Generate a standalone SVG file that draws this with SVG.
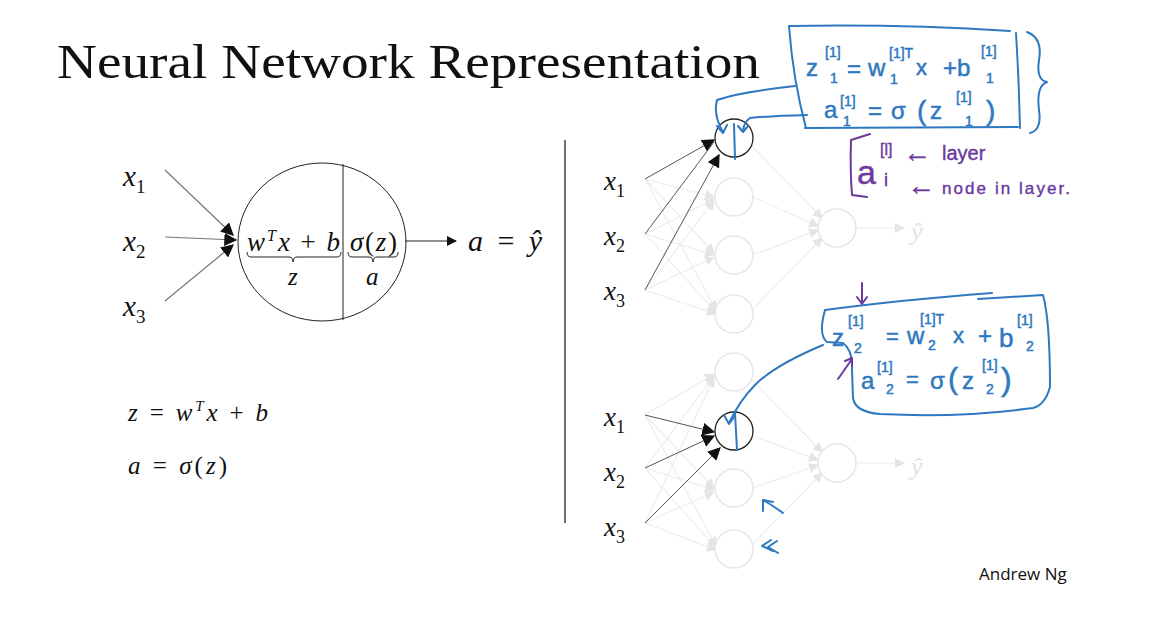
<svg xmlns="http://www.w3.org/2000/svg" width="1159" height="618" viewBox="0 0 1159 618">
<defs>
<style>
.m{font-family:"Liberation Serif","DejaVu Serif",serif;fill:#111}
.i{font-style:italic}
.ln{stroke:#222;stroke-width:1;fill:none}
.fe{stroke:#ececec;stroke-width:1.1;fill:none}
.fn{stroke:#e6e6e6;stroke-width:1.5;fill:#fff}
.bl{stroke:#2e78c0;stroke-width:2;fill:none;stroke-linecap:round;stroke-linejoin:round}
.pu{stroke:#6a3a9e;stroke-width:2;fill:none;stroke-linecap:round;stroke-linejoin:round}
.bt{font-family:"Liberation Sans","DejaVu Sans",sans-serif;fill:#2e78c0;stroke:#2e78c0;stroke-width:0.5}
.pt{font-family:"Liberation Sans","DejaVu Sans",sans-serif;fill:#6a3a9e;stroke:#6a3a9e;stroke-width:0.4}
</style>
<marker id="ah" viewBox="0 0 10 10" refX="9" refY="5" markerWidth="10" markerHeight="10" markerUnits="userSpaceOnUse" orient="auto"><path d="M0,0 L10,5 L0,10 z" fill="#111"/></marker>
<marker id="ahb" viewBox="0 0 10 10" refX="9" refY="5" markerWidth="13" markerHeight="13" markerUnits="userSpaceOnUse" orient="auto"><path d="M0,0 L10,5 L0,10 z" fill="#111"/></marker>
<marker id="ag" viewBox="0 0 10 10" refX="9" refY="5" markerWidth="10" markerHeight="10" markerUnits="userSpaceOnUse" orient="auto"><path d="M0,0 L10,5 L0,10 z" fill="#e4e4e4"/></marker>
</defs>
<rect width="1159" height="618" fill="#fff"/>

<g id="title"><text x="57" y="78" class="m" font-size="48" textLength="703" lengthAdjust="spacingAndGlyphs">Neural Network Representation</text></g>

<!-- Left single neuron diagram -->
<g id="connectors-left">
<line x1="165" y1="170" x2="233" y2="235" stroke="#777" stroke-width="1.2" marker-end="url(#ahb)"/>
<line x1="165" y1="237" x2="236" y2="240" stroke="#777" stroke-width="1.2" marker-end="url(#ahb)"/>
<line x1="165" y1="301" x2="233" y2="245" stroke="#777" stroke-width="1.2" marker-end="url(#ahb)"/>
<line x1="405" y1="241" x2="456" y2="241" stroke="#222" stroke-width="1.2" marker-end="url(#ah)"/>
</g>
<g id="in-x1"><text x="123" y="186" class="m i" font-size="29">x<tspan font-style="normal" font-size="19" dy="7">1</tspan></text></g>
<g id="in-x2"><text x="123" y="251" class="m i" font-size="29">x<tspan font-style="normal" font-size="19" dy="7">2</tspan></text></g>
<g id="in-x3"><text x="123" y="316" class="m i" font-size="29">x<tspan font-style="normal" font-size="19" dy="7">3</tspan></text></g>
<g id="neuron">
<ellipse cx="322" cy="242" rx="84" ry="79" class="ln" stroke-width="1.3"/>
<line x1="343" y1="164" x2="343" y2="320" class="ln" stroke-width="1.3"/>
<text x="247" y="251" class="m i" font-size="27" textLength="93">w<tspan font-size="16" dy="-10">T</tspan><tspan dy="10">x</tspan><tspan font-style="normal"> + </tspan>b</text>
<path d="M247,252 q0,5 4,5 L289,257 q4,0 4,5 q0,-5 4,-5 L337,257 q4,0 4,-5" class="ln" stroke="#666"/>
<text x="288" y="285" class="m i" font-size="25">z</text>
<text x="350" y="251" class="m" font-size="27" textLength="47"><tspan font-style="italic">σ</tspan>(<tspan font-style="italic">z</tspan>)</text>
<path d="M348,252 q0,5 4,5 L369,257 q4,0 4,5 q0,-5 4,-5 L394,257 q4,0 4,-5" class="ln" stroke="#666"/>
<text x="366" y="285" class="m i" font-size="25">a</text>
</g>
<g id="out-a"><text x="468" y="251" class="m i" font-size="30" textLength="74">a <tspan font-style="normal">=</tspan> ŷ</text></g>

<g id="formulas">
<text x="128" y="421" class="m i" font-size="25" textLength="140">z <tspan font-style="normal">=</tspan> w<tspan font-size="15" dy="-10">T</tspan><tspan dy="10">x</tspan><tspan font-style="normal"> + </tspan>b</text>
<text x="128" y="474" class="m i" font-size="25" textLength="99">a <tspan font-style="normal">=</tspan> σ<tspan font-style="normal">(</tspan>z<tspan font-style="normal">)</tspan></text>
</g>

<g id="divider"><line x1="565" y1="140" x2="565" y2="523" stroke="#222" stroke-width="1.3"/></g>

<!-- Top network -->
<g id="connectors-top">
<g class="fe" marker-end="url(#ag)">
<line x1="645" y1="179" x2="714" y2="197"/><line x1="645" y1="179" x2="714" y2="253"/><line x1="645" y1="179" x2="716" y2="310"/>
<line x1="645" y1="234" x2="714" y2="199"/><line x1="645" y1="234" x2="714" y2="255"/><line x1="645" y1="234" x2="716" y2="312"/>
<line x1="645" y1="290" x2="714" y2="201"/><line x1="645" y1="290" x2="714" y2="257"/><line x1="645" y1="290" x2="716" y2="314"/>
<line x1="752" y1="146" x2="822" y2="218"/><line x1="753" y1="197" x2="818" y2="226"/><line x1="753" y1="255" x2="818" y2="230"/><line x1="752" y1="310" x2="822" y2="238"/>
<line x1="856" y1="228" x2="904" y2="228"/>
</g>
<line x1="645" y1="179" x2="714" y2="140" stroke="#555" stroke-width="1" marker-end="url(#ahb)"/>
<line x1="645" y1="234" x2="714" y2="142" stroke="#555" stroke-width="1"/>
<line x1="645" y1="290" x2="719" y2="155" stroke="#555" stroke-width="1" marker-end="url(#ahb)"/>
</g>
<g id="top-inputs">
<text x="604" y="190" class="m i" font-size="27">x<tspan font-style="normal" font-size="18" dy="7">1</tspan></text>
<text x="604" y="245" class="m i" font-size="27">x<tspan font-style="normal" font-size="18" dy="7">2</tspan></text>
<text x="604" y="300" class="m i" font-size="27">x<tspan font-style="normal" font-size="18" dy="7">3</tspan></text>
</g>
<g id="top-h1"><circle cx="734" cy="138" r="19" fill="#fff" stroke="#222" stroke-width="1.3"/></g>
<g id="top-h2"><circle cx="734" cy="197" r="19" class="fn"/></g>
<g id="top-h3"><circle cx="734" cy="255" r="19" class="fn"/></g>
<g id="top-h4"><circle cx="734" cy="314" r="19" class="fn"/></g>
<g id="top-out"><circle cx="837" cy="228" r="19" class="fn"/><text x="911" y="240" class="m i" font-size="26" style="fill:#e2e2e2">ŷ</text></g>

<!-- Bottom network -->
<g id="connectors-bottom">
<g class="fe" marker-end="url(#ag)">
<line x1="645" y1="415" x2="714" y2="374"/><line x1="645" y1="415" x2="714" y2="488"/><line x1="645" y1="415" x2="716" y2="546"/>
<line x1="645" y1="468" x2="714" y2="376"/><line x1="645" y1="468" x2="714" y2="490"/><line x1="645" y1="468" x2="716" y2="548"/>
<line x1="645" y1="523" x2="714" y2="378"/><line x1="645" y1="523" x2="714" y2="492"/><line x1="645" y1="523" x2="716" y2="550"/>
<line x1="752" y1="380" x2="822" y2="452"/><line x1="753" y1="436" x2="818" y2="460"/><line x1="753" y1="488" x2="818" y2="465"/><line x1="752" y1="545" x2="822" y2="473"/>
<line x1="856" y1="463" x2="904" y2="463"/>
</g>
<line x1="645" y1="415" x2="714" y2="432" stroke="#555" stroke-width="1" marker-end="url(#ahb)"/>
<line x1="645" y1="468" x2="714" y2="436" stroke="#555" stroke-width="1" marker-end="url(#ahb)"/>
<line x1="645" y1="523" x2="720" y2="448" stroke="#555" stroke-width="1" marker-end="url(#ahb)"/>
</g>
<g id="bottom-inputs">
<text x="604" y="426" class="m i" font-size="27">x<tspan font-style="normal" font-size="18" dy="7">1</tspan></text>
<text x="604" y="481" class="m i" font-size="27">x<tspan font-style="normal" font-size="18" dy="7">2</tspan></text>
<text x="604" y="536" class="m i" font-size="27">x<tspan font-style="normal" font-size="18" dy="7">3</tspan></text>
</g>
<g id="bot-h1"><circle cx="734" cy="372" r="19" class="fn"/></g>
<g id="bot-h2"><circle cx="734" cy="431" r="19" fill="#fff" stroke="#222" stroke-width="1.3"/></g>
<g id="bot-h3"><circle cx="734" cy="488" r="19" class="fn"/></g>
<g id="bot-h4"><circle cx="734" cy="549" r="19" class="fn"/></g>
<g id="bot-out"><circle cx="837" cy="463" r="19" class="fn"/><text x="911" y="475" class="m i" font-size="26" style="fill:#e2e2e2">ŷ</text></g>

<!-- Blue annotations, top -->
<g id="note-top">
<path d="M789,26 Q900,24 1010,31" class="bl"/>
<path d="M1016,33 Q1019,80 1020,128" class="bl"/>
<path d="M805,128 L1018,127" class="bl"/>
<path d="M789,26 Q793,80 806,128" class="bl"/>
<path d="M795,86 Q740,92 717,100 Q713,115 723,132" class="bl"/>
<path d="M717,126 L723,133 L727,125" class="bl"/>
<path d="M807,115 Q770,116 750,118 Q744,122 743,131" class="bl"/>
<path d="M738,126 L743,132 L748,126" class="bl"/>
<line x1="734" y1="124" x2="735" y2="159" class="bl"/>
<path d="M1027,32 Q1043,38 1039,60 Q1036,80 1047,82 Q1036,86 1039,110 Q1042,130 1030,133" class="bl"/>
<text class="bt" font-size="24" x="806" y="76">z</text>
<text class="bt" font-size="14" x="825" y="57">[1]</text>
<text class="bt" font-size="14" x="830" y="83">1</text>
<text class="bt" font-size="24" x="847" y="77">=</text>
<text class="bt" font-size="24" x="868" y="76">w</text>
<text class="bt" font-size="14" x="889" y="58">[1]T</text>
<text class="bt" font-size="14" x="890" y="84">1</text>
<text class="bt" font-size="22" x="916" y="75">x</text>
<text class="bt" font-size="24" x="943" y="76">+b</text>
<text class="bt" font-size="14" x="981" y="56">[1]</text>
<text class="bt" font-size="14" x="986" y="83">1</text>
<text class="bt" font-size="24" x="824" y="118">a</text>
<text class="bt" font-size="14" x="840" y="106">[1]</text>
<text class="bt" font-size="14" x="843" y="126">1</text>
<text class="bt" font-size="24" x="868" y="119">=</text>
<text class="bt" font-size="24" x="891" y="119">σ</text>
<text class="bt" font-size="28" x="917" y="120">(</text>
<text class="bt" font-size="24" x="930" y="119">z</text>
<text class="bt" font-size="14" x="956" y="102">[1]</text>
<text class="bt" font-size="14" x="965" y="126">1</text>
<text class="bt" font-size="28" x="986" y="120">)</text>
</g>

<!-- Purple annotation -->
<g id="note-layer">
<path d="M870,134 L851,140 Q850,170 852,195 L867,197" class="pu"/>
<text class="pt" font-size="34" x="857" y="184">a</text>
<text class="pt" font-size="16" x="880" y="155">[l]</text>
<text class="pt" font-size="28" x="903" y="162">←</text>
<text class="pt" font-size="20" x="942" y="160">layer</text>
<text class="pt" font-size="18" x="884" y="186">i</text>
<text class="pt" font-size="28" x="907" y="195">←</text>
<text class="pt" font-size="17" x="942" y="194" textLength="128">node in layer.</text>
</g>

<!-- Blue annotations, bottom -->
<g id="note-bottom">
<path d="M825,310 Q900,300 992,293" class="bl"/>
<path d="M978,299 L1043,295 Q1050,320 1050,387 Q1045,405 1033,408 Q960,418 880,414 Q855,412 853,398 L852,370 Q853,350 843,343 L827,342 Q818,335 825,310" class="bl"/>
<path d="M823,345 Q775,365 755,385 Q740,400 729,423" class="bl"/>
<path d="M724,415 L729,424 L735,416" class="bl"/>
<line x1="735" y1="413" x2="737" y2="450" class="bl"/>
<text class="bt" font-size="24" x="832" y="346">z</text>
<text class="bt" font-size="14" x="848" y="326">[1]</text>
<text class="bt" font-size="14" x="854" y="353">2</text>
<text class="bt" font-size="22" x="886" y="344">=</text>
<text class="bt" font-size="24" x="907" y="344">w</text>
<text class="bt" font-size="14" x="920" y="324">[1]T</text>
<text class="bt" font-size="14" x="928" y="350">2</text>
<text class="bt" font-size="22" x="953" y="343">x</text>
<text class="bt" font-size="24" x="978" y="344">+</text>
<text class="bt" font-size="26" x="999" y="347">b</text>
<text class="bt" font-size="14" x="1017" y="325">[1]</text>
<text class="bt" font-size="14" x="1026" y="351">2</text>
<text class="bt" font-size="24" x="861" y="389">a</text>
<text class="bt" font-size="14" x="877" y="372">[1]</text>
<text class="bt" font-size="14" x="886" y="394">2</text>
<text class="bt" font-size="22" x="906" y="387">=</text>
<text class="bt" font-size="24" x="930" y="389">σ</text>
<text class="bt" font-size="30" x="948" y="389">(</text>
<text class="bt" font-size="24" x="962" y="389">z</text>
<text class="bt" font-size="14" x="982" y="370">[1]</text>
<text class="bt" font-size="14" x="986" y="394">2</text>
<text class="bt" font-size="32" x="1001" y="390">)</text>
<path d="M783,513 Q772,505 763,500" class="bl"/>
<path d="M763,500 L763,511 M763,500 L773,502" class="bl"/>
<path d="M771,540 L762,546 L773,551 M777,541 L768,547 L778,553" class="bl"/>
</g>
<g id="note-arrows-purple">
<path d="M862,283 L862,303 M857,297 L862,304 L867,297" class="pu"/>
<path d="M838,379 L852,359 M845,361 L852,358 L852,366" class="pu"/>
</g>

<g id="author"><text x="979" y="580" font-family="'Open Sans','Liberation Sans',sans-serif" font-size="17" fill="#111">Andrew Ng</text></g>
</svg>
